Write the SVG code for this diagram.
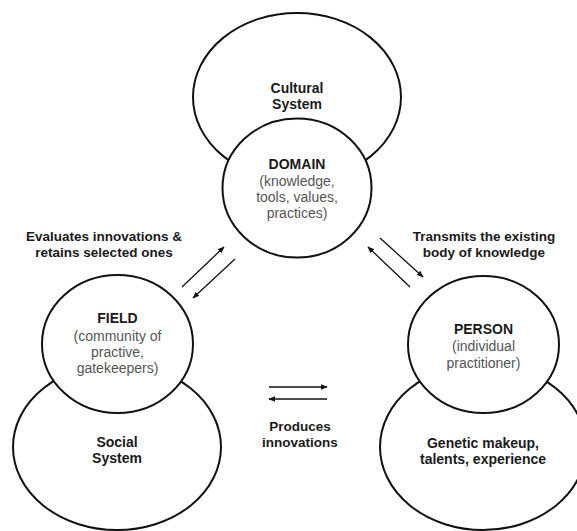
<svg xmlns="http://www.w3.org/2000/svg" width="577" height="531" viewBox="0 0 577 531">
<defs>
<marker id="ah" viewBox="0 0 10 10" refX="9" refY="5" markerWidth="7" markerHeight="7" markerUnits="userSpaceOnUse" orient="auto">
<path d="M0,1 L10,5 L0,9 Z" fill="#111"/>
</marker>
</defs>
<style>
.sh{fill:#fff;stroke:#111;stroke-width:2}
.t{font-family:"Liberation Sans",Arial,sans-serif;font-size:14px;text-anchor:middle}
.b{font-weight:bold;fill:#1a1a1a}
.g{fill:#555}
.lb{font-family:"Liberation Sans",Arial,sans-serif;font-size:13.5px;font-weight:bold;fill:#1a1a1a;text-anchor:middle}
.ar{stroke:#111;stroke-width:1.3;fill:none;marker-end:url(#ah)}
</style>
<rect width="577" height="531" fill="#fff"/>
<g id="cultural-system">
<ellipse class="sh" cx="297" cy="97" rx="104" ry="84"/>
<text class="t b" x="297" y="93">Cultural</text>
<text class="t b" x="297" y="109">System</text>
</g>
<g id="domain">
<ellipse class="sh" cx="297" cy="188" rx="74.5" ry="69.5"/>
<text class="t b" x="297" y="169">DOMAIN</text>
<text class="t g" x="297" y="186">(knowledge,</text>
<text class="t g" x="297" y="202">tools, values,</text>
<text class="t g" x="297" y="218">practices)</text>
</g>
<g id="social-system">
<ellipse class="sh" cx="117" cy="447" rx="104" ry="83"/>
<text class="t b" x="117" y="447">Social</text>
<text class="t b" x="117" y="463">System</text>
</g>
<g id="field">
<ellipse class="sh" cx="117.5" cy="344" rx="75.5" ry="69"/>
<text class="t b" x="117.5" y="323">FIELD</text>
<text class="t g" x="117.5" y="341">(community of</text>
<text class="t g" x="117.5" y="357">practive,</text>
<text class="t g" x="117.5" y="373">gatekeepers)</text>
</g>
<g id="genetic">
<ellipse class="sh" cx="483" cy="447" rx="103" ry="83"/>
<text class="t b" x="483" y="448">Genetic makeup,</text>
<text class="t b" x="483" y="464">talents, experience</text>
</g>
<g id="person">
<ellipse class="sh" cx="483.5" cy="344.5" rx="75.5" ry="68.5"/>
<text class="t b" x="483.5" y="334">PERSON</text>
<text class="t g" x="483.5" y="351">(individual</text>
<text class="t g" x="483.5" y="368">practitioner)</text>
</g>
<g id="connectors">
<line class="ar" x1="182" y1="287" x2="224" y2="247"/>
<line class="ar" x1="235" y1="259" x2="193" y2="298"/>
<line class="ar" x1="410" y1="287" x2="368" y2="247"/>
<line class="ar" x1="380" y1="238" x2="423" y2="277"/>
<line class="ar" x1="269" y1="387" x2="327" y2="387"/>
<line class="ar" x1="327" y1="399" x2="269" y2="399"/>
</g>
<g id="labels">
<text class="lb" x="104" y="241">Evaluates innovations &amp;</text>
<text class="lb" x="104" y="257">retains selected ones</text>
<text class="lb" x="484" y="241">Transmits the existing</text>
<text class="lb" x="484" y="257">body of knowledge</text>
<text class="lb" x="300" y="431">Produces</text>
<text class="lb" x="300" y="447">innovations</text>
</g>
</svg>
